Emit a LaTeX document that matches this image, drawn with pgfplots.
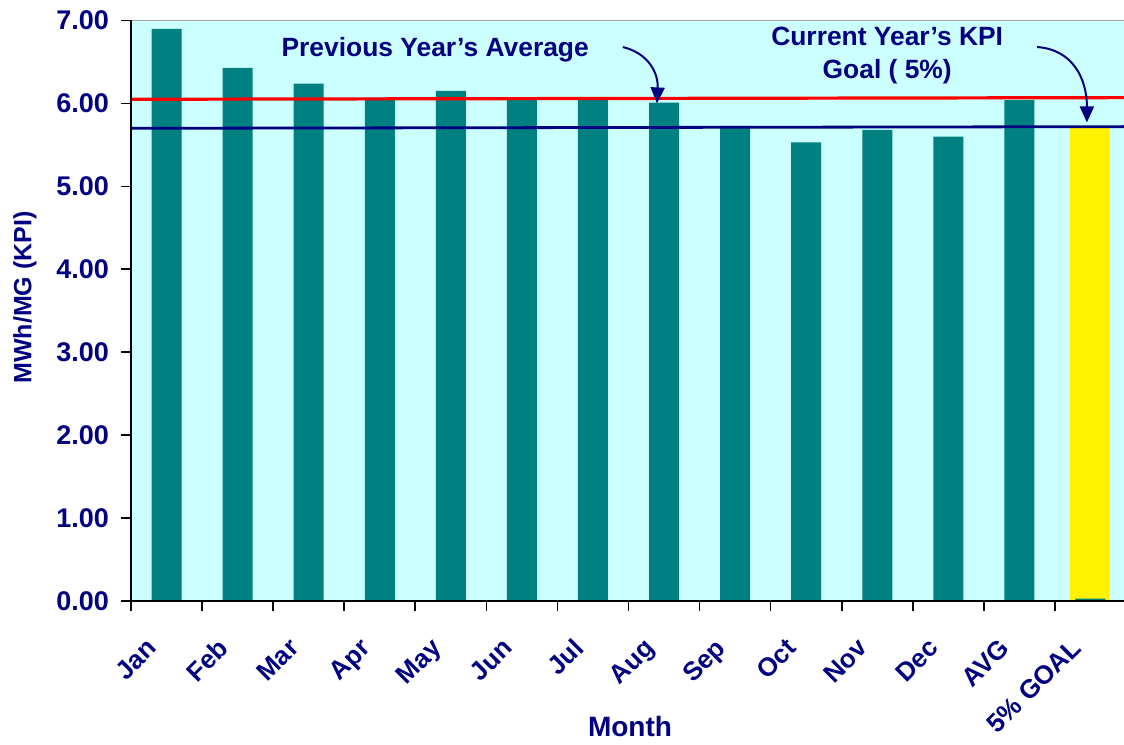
\documentclass[border=0pt]{standalone}
\usepackage{fontspec}
\setmainfont{Liberation Sans}
\usepackage{pgfplots}
\pgfplotsset{compat=1.18}
\usetikzlibrary{arrows.meta,calc}
\definecolor{navy}{RGB}{0,0,128}
\definecolor{tealbar}{RGB}{0,128,128}
\definecolor{bgc}{RGB}{204,255,255}
\begin{document}
\begin{tikzpicture}
\begin{axis}[
  scale only axis, width=497.5pt, height=290.25pt,
  xmin=-0.5, xmax=13.5, ymin=0, ymax=7,
  axis background/.style={fill=bgc},
  axis line style={draw=gray!70, line width=0.6pt},
  tick pos=left, tick align=outside, major tick length=5pt,
  every tick/.style={black, line width=0.8pt},
  xtick={-0.5,0.5,...,13.5},
  x tick label as interval,
  xticklabels={Jan,Feb,Mar,Apr,May,Jun,Jul,Aug,Sep,Oct,Nov,Dec,AVG,5\% GOAL},
  xticklabel style={font=\bfseries\fontsize{13}{15}\selectfont, text=navy, xshift=-10.5pt, yshift=-8pt, rotate=45, anchor=north east},
  ytick={0,1,...,7},
  yticklabel style={font=\bfseries\fontsize{13.5}{15}\selectfont, text=navy, xshift=-2.5pt, /pgf/number format/.cd, fixed, fixed zerofill, precision=2, assume math mode=true},
  ylabel={MWh/MG (KPI)},
  ylabel style={font=\bfseries\fontsize{12.5}{14}\selectfont, text=navy, at={(axis description cs:-0.1067,0.523)}, anchor=center},
  xlabel={Month},
  xlabel style={font=\bfseries\fontsize{14}{16}\selectfont, text=navy, at={(axis description cs:0.5015,-0.217)}, anchor=center},
  clip=false,
]
\addplot[ybar, bar width=20pt, bar shift=0pt, fill=yellow, draw=none] coordinates {(13,5.70)};
\addplot[ybar, bar width=15pt, bar shift=0pt, fill=tealbar, draw=none] coordinates {
  (0,6.90) (1,6.43) (2,6.24) (3,6.07) (4,6.15) (5,6.06) (6,6.07)
  (7,6.01) (8,5.73) (9,5.53) (10,5.68) (11,5.60) (12,6.04) (13,0.03)};
\addplot[red, line width=1.6pt] coordinates {(-0.5,6.05) (13.5,6.07)};
\addplot[navy, line width=1.4pt] coordinates {(-0.5,5.70) (13.5,5.72)};
\draw[black, line width=0.9pt] (rel axis cs:0,1) -- (rel axis cs:0,0) -- (rel axis cs:1,0);
\node[font=\bfseries\fontsize{13.2}{15}\selectfont, text=navy] at (axis cs:3.78,6.65) {Previous Year's Average};
\node[font=\bfseries\fontsize{13.2}{16.5}\selectfont, text=navy, align=center] at (axis cs:10.14,6.58) {Current Year's KPI\\Goal ( 5\%)};
\draw[navy, line width=1pt, -{Triangle[length=8pt,width=7pt]}] (axis cs:6.42,6.68) .. controls (axis cs:6.8,6.6) and (axis cs:6.92,6.35) .. (axis cs:6.90,6.0);
\draw[navy, line width=1pt, -{Triangle[length=8pt,width=7pt]}] (axis cs:12.25,6.68) .. controls (axis cs:12.75,6.65) and (axis cs:12.95,6.3) .. (axis cs:12.95,5.77);
\coordinate (bl) at (rel axis cs:0,0);
\end{axis}
\pgfresetboundingbox
\path ($(bl)+(-65.5pt,-71.5pt)$) rectangle ($(bl)+(496.5pt,300.5pt)$);
\end{tikzpicture}
\end{document}
